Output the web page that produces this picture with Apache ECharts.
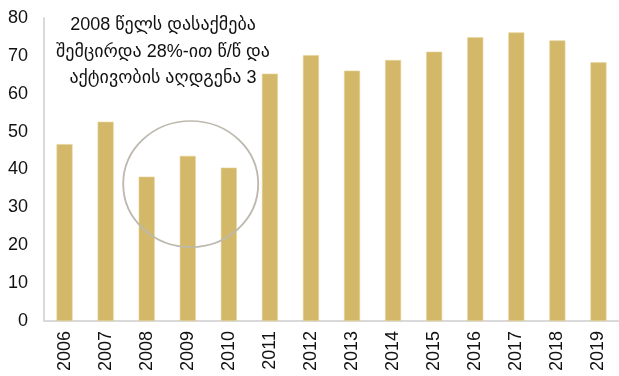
<!DOCTYPE html>
<html>
<head>
<meta charset="utf-8">
<script src="https://cdn.jsdelivr.net/npm/echarts@6/dist/echarts.min.js"></script>
<style>
  html, body { margin: 0; padding: 0; background: #fff; }
  #chart { width: 619px; height: 376px; }
</style>
</head>
<body>
<div id="chart"></div>
<script>
// Years on the category axis
const years = ['2006', '2007', '2008', '2009', '2010', '2011', '2012',
               '2013', '2014', '2015', '2016', '2017', '2018', '2019'];
// Yearly values
const values = [46.7, 52.6, 38.1, 43.6, 40.5, 65.3, 70.2,
                66.1, 68.9, 71.1, 74.9, 76.2, 74.1, 68.3];
// Annotation lines
const noteLines = ['2008 წელს დასაქმება', 'შემცირდა 28%-ით წ/წ და', 'აქტივობის აღდგენა 3'];

const FONT = '"Liberation Sans", Arial, "DejaVu Sans", sans-serif';

const chart = echarts.init(document.getElementById('chart'));
chart.setOption({
  animation: false,
  grid: { left: 44, right: -4, top: 18, bottom: 55 },
  xAxis: {
    type: 'category',
    data: years,
    axisLine: { lineStyle: { color: '#d9d9d9', width: 2 } },
    axisTick: { show: false },
    axisLabel: { rotate: 90, color: '#111', fontSize: 18, fontFamily: FONT, margin: 10 }
  },
  yAxis: {
    type: 'value',
    min: 0, max: 80, interval: 10,
    axisLine: { show: true, lineStyle: { color: '#d9d9d9', width: 2 } },
    axisTick: { show: false },
    splitLine: { show: false },
    axisLabel: { color: '#111', fontSize: 18, fontFamily: FONT, margin: 16 }
  },
  series: [{
    type: 'bar',
    data: values,
    barWidth: 16,
    itemStyle: { color: '#d3b86a', borderColor: '#e6d398', borderWidth: 0.6 }
  }],
  graphic: [
    {
      type: 'text',
      x: 163, y: 12,
      style: {
        text: noteLines.join('\n'),
        fontSize: 18,
        fontFamily: FONT,
        fill: '#111',
        textAlign: 'center',
        lineHeight: 26.5
      }
    },
    {
      type: 'circle',
      shape: { cx: 0, cy: 0, r: 65 },
      x: 190.7, y: 184,
      scaleX: 67.5 / 65, scaleY: 63 / 65,
      style: { fill: 'none', stroke: '#bdb9ae', lineWidth: 1.8 },
      z: 10
    }
  ]
});
</script>
</body>
</html>
